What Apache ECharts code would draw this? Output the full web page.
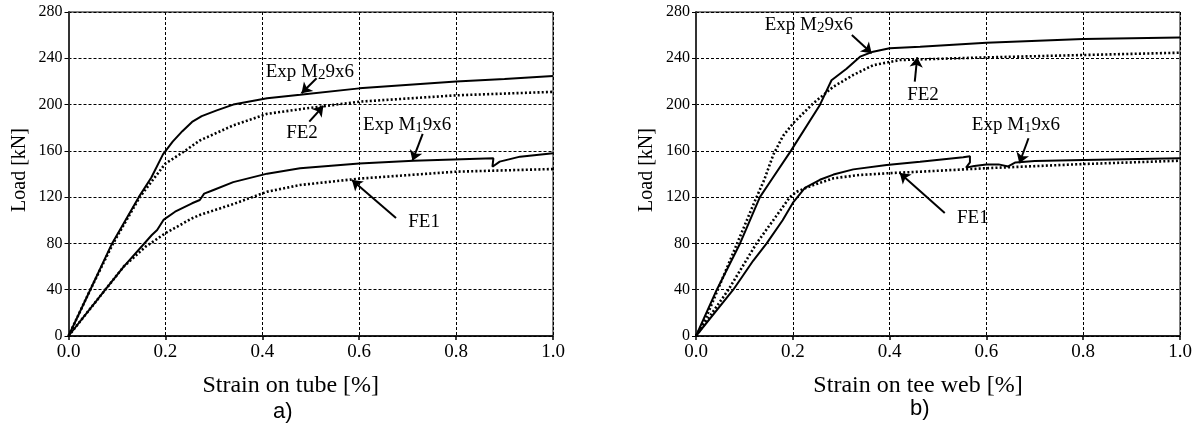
<!DOCTYPE html>
<html>
<head>
<meta charset="utf-8">
<script src="https://cdn.jsdelivr.net/npm/echarts@6/dist/echarts.min.js"></script>
<style>html,body{margin:0;padding:0;background:#fff}#c{width:1203px;height:429px}</style>
</head>
<body>
<div id="c"></div>
<script>
// ---- data (strain [%], load [kN]) ----
var xTicks = [0.0, 0.2, 0.4, 0.6, 0.8, 1.0];
var yTicks = [0, 40, 80, 120, 160, 200, 240, 280];

// chart a) strain on tube
var expM2_a = [[0,0],[0.045,40],[0.09,80],[0.145,120],[0.171,137],[0.195,157],[0.215,168],[0.235,177],[0.255,185],[0.275,190],[0.306,195],[0.34,200],[0.41,205.5],[0.478,208.5],[0.6,214],[0.8,220],[0.9,222],[1.0,224.7]];
var fe2_a   = [[0,0],[0.045,40],[0.092,80],[0.147,120],[0.176,136],[0.2,149],[0.237,159],[0.271,169],[0.34,182],[0.41,192],[0.478,196],[0.6,202.5],[0.8,208],[1.0,211]];
var expM1_a = [[0,0],[0.076,40],[0.114,60],[0.172,87.3],[0.183,91.6],[0.196,100.3],[0.22,107.4],[0.255,114.7],[0.271,117.5],[0.28,123],[0.298,126],[0.34,133],[0.41,140.3],[0.478,145],[0.6,149],[0.712,151.5],[0.877,153.6],[0.875,146.3],[0.89,150.7],[0.932,155],[1.0,158]];
var fe1_a   = [[0,0],[0.076,40],[0.114,60],[0.159,77.2],[0.2,88.8],[0.255,101.7],[0.271,104.6],[0.34,114],[0.41,124.7],[0.478,130.5],[0.6,136],[0.8,142],[1.0,144.3]];

// chart b) strain on tee web
var expM2_b = [[0,0],[0.043,40],[0.091,80],[0.132,120],[0.156,135],[0.196,160],[0.256,199.7],[0.28,221],[0.311,231],[0.339,241.4],[0.366,245.7],[0.40,248.6],[0.463,250],[0.6,253.5],[0.8,256.7],[1.0,258]];
var fe2_b   = [[0,0],[0.02,15],[0.045,40],[0.085,80],[0.123,118],[0.141,135],[0.16,157],[0.18,173],[0.201,184],[0.242,201],[0.284,215.5],[0.325,225.6],[0.366,234],[0.421,238.5],[0.6,240.8],[0.8,242.8],[1.0,244.8]];
var expM1_b = [[0,0],[0.077,40],[0.118,65],[0.146,80],[0.179,100],[0.2,115],[0.225,128],[0.256,135],[0.284,139.5],[0.325,144],[0.394,147.8],[0.463,150.6],[0.552,154.4],[0.566,155.3],[0.566,150],[0.558,145.5],[0.575,147],[0.6,148.3],[0.625,148.3],[0.645,146.5],[0.66,150],[0.7,151.2],[0.8,152],[1.0,153.6]];
var fe1_b   = [[0,0],[0.067,40],[0.125,80],[0.194,120],[0.208,124.7],[0.236,129.5],[0.284,136.3],[0.339,139.2],[0.394,140.6],[0.463,142],[0.6,145],[0.8,148.6],[1.0,151.5]];

// annotations: label anchor (data units) and arrows [x1,y1,x2,y2] (tail -> head)
var labelText = ['Exp M29x6', 'FE2', 'Exp M19x6', 'FE1'];
var labelPos_a = [[0.498,228.2],[0.482,175.4],[0.699,182.4],[0.734,98.5]];
var arrows_a   = [[0.512,222.7,0.481,209.8],[0.497,185.2,0.526,198.8],[0.731,174.6,0.710,151.5],[0.676,102,0.585,134.8]];
var labelPos_b = [[0.233,268.8],[0.469,208.3],[0.661,182.4],[0.572,102]];
var arrows_b   = [[0.322,260.2,0.363,244.3],[0.452,219.8,0.457,240.9],[0.687,170.9,0.668,149.3],[0.514,106.3,0.421,140.9]];

var xNames = ['Strain on tube [%]', 'Strain on tee web [%]'];
var panelNames = ['a)', 'b)'];

// ---- chart ----
var SERIF = 'Liberation Serif';
var chart = echarts.init(document.getElementById('c'), null, {renderer: 'canvas'});

function xAxisCfg(i) {
  return {
    type: 'value', gridIndex: i, min: 0, max: 1, interval: 0.2,
    name: xNames[i], nameLocation: 'middle', nameGap: 38,
    nameTextStyle: {fontFamily: SERIF, fontSize: 24, color: '#000', padding: [0, 40, 0, 0]},
    axisLine: {show: true, lineStyle: {color: '#000', width: 1.5}},
    axisTick: {show: true, inside: false, length: 4, lineStyle: {color: '#000', width: 1.5}},
    axisLabel: {fontFamily: SERIF, fontSize: 19, color: '#000', margin: 7,
      formatter: function (v) { return v.toFixed(1); }},
    splitLine: {show: true, lineStyle: {color: '#000', width: 1, type: [3, 2]}}
  };
}
function yAxisCfg(i) {
  return {
    type: 'value', gridIndex: i, min: 0, max: 280, interval: 40,
    name: 'Load [kN]', nameLocation: 'middle', nameGap: 39,
    nameTextStyle: {fontFamily: SERIF, fontSize: 20, color: '#000', padding: [0, 0, 0, 8]},
    axisLine: {show: true, lineStyle: {color: '#333', width: 2}},
    axisTick: {show: true, inside: false, length: 4, lineStyle: {color: '#000', width: 1}},
    axisLabel: {fontFamily: SERIF, fontSize: 16, color: '#000', margin: 6},
    splitLine: {show: true, lineStyle: {color: '#000', width: 1, type: [3, 2]}}
  };
}
function lineSeries(data, i, dotted) {
  return {
    type: 'line', xAxisIndex: i, yAxisIndex: i, data: data, symbol: 'none',
    smooth: false, animation: false, silent: true, z: 3,
    lineStyle: dotted ? {color: '#000', width: 2.6, type: [2, 2.2]} : {color: '#000', width: 2}
  };
}
function annotSeries(pos, arrows, i) {
  var data = pos.map(function (p, k) { return {value: [p[0], p[1]], name: labelText[k]}; });
  return {
    type: 'scatter', xAxisIndex: i, yAxisIndex: i, symbolSize: 0, data: data,
    animation: false, silent: true, z: 5, itemStyle: {color: '#000', opacity: 1},
    label: {
      show: true, position: 'inside', color: '#000', opacity: 1, textBorderWidth: 0,
      fontFamily: SERIF, fontSize: 19, lineHeight: 22,
      formatter: function (p) { return p.name.replace(/M(\d)/, 'M{s|$1}'); },
      rich: {s: {fontFamily: SERIF, fontSize: 15, lineHeight: 22, verticalAlign: 'bottom', color: '#000'}}
    },
    markLine: {
      silent: true, animation: false, symbol: ['none', 'arrow'], symbolSize: 10,
      label: {show: false},
      lineStyle: {color: '#000', width: 2, type: 'solid', opacity: 1},
      data: arrows.map(function (a) { return [{coord: [a[0], a[1]]}, {coord: [a[2], a[3]]}]; })
    }
  };
}

var option = {
  backgroundColor: '#fff',
  animation: false,
  grid: [
    {left: 68.5, top: 12, width: 484.5, height: 324, show: true, borderColor: '#000', borderWidth: 1, backgroundColor: 'transparent'},
    {left: 696, top: 12, width: 484, height: 324, show: true, borderColor: '#000', borderWidth: 1, backgroundColor: 'transparent'}
  ],
  xAxis: [xAxisCfg(0), xAxisCfg(1)],
  yAxis: [yAxisCfg(0), yAxisCfg(1)],
  graphic: [
    {type: 'text', left: 273, top: 401, style: {text: panelNames[0], font: '22px "Liberation Sans"', fill: '#000'}},
    {type: 'text', left: 910, top: 398, style: {text: panelNames[1], font: '22px "Liberation Sans"', fill: '#000'}}
  ],
  series: [
    lineSeries(expM2_a, 0, false), lineSeries(fe2_a, 0, true),
    lineSeries(expM1_a, 0, false), lineSeries(fe1_a, 0, true),
    annotSeries(labelPos_a, arrows_a, 0),
    lineSeries(expM2_b, 1, false), lineSeries(fe2_b, 1, true),
    lineSeries(expM1_b, 1, false), lineSeries(fe1_b, 1, true),
    annotSeries(labelPos_b, arrows_b, 1)
  ]
};
chart.setOption(option);
</script>
</body>
</html>
